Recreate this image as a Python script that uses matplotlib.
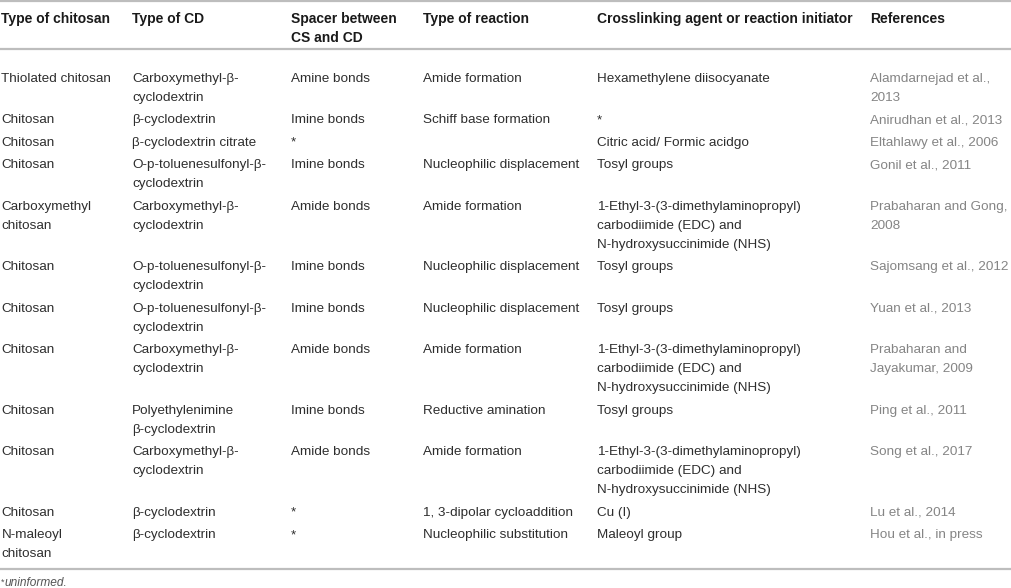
import matplotlib
matplotlib.use("Agg")
import matplotlib.pyplot as plt

headers = ["Type of chitosan", "Type of CD", "Spacer between\nCS and CD",
           "Type of reaction", "Crosslinking agent or reaction initiator", "References"]

chitosan_types = ["Thiolated chitosan", "Chitosan", "Chitosan", "Chitosan",
                  "Carboxymethyl\nchitosan", "Chitosan", "Chitosan", "Chitosan",
                  "Chitosan", "Chitosan", "Chitosan", "N-maleoyl\nchitosan"]
cd_types = ["Carboxymethyl-β-\ncyclodextrin", "β-cyclodextrin", "β-cyclodextrin citrate",
            "O-p-toluenesulfonyl-β-\ncyclodextrin", "Carboxymethyl-β-\ncyclodextrin",
            "O-p-toluenesulfonyl-β-\ncyclodextrin", "O-p-toluenesulfonyl-β-\ncyclodextrin",
            "Carboxymethyl-β-\ncyclodextrin", "Polyethylenimine\nβ-cyclodextrin",
            "Carboxymethyl-β-\ncyclodextrin", "β-cyclodextrin", "β-cyclodextrin"]
spacers = ["Amine bonds", "Imine bonds", "*", "Imine bonds", "Amide bonds", "Imine bonds",
           "Imine bonds", "Amide bonds", "Imine bonds", "Amide bonds", "*", "*"]
reactions = ["Amide formation", "Schiff base formation", "", "Nucleophilic displacement",
             "Amide formation", "Nucleophilic displacement", "Nucleophilic displacement",
             "Amide formation", "Reductive amination", "Amide formation",
             "1, 3-dipolar cycloaddition", "Nucleophilic substitution"]
EDC = "1-Ethyl-3-(3-dimethylaminopropyl)\ncarbodiimide (EDC) and\nN-hydroxysuccinimide (NHS)"
agents = ["Hexamethylene diisocyanate", "*", "Citric acid/ Formic acidgo", "Tosyl groups",
          EDC, "Tosyl groups", "Tosyl groups", EDC, "Tosyl groups", EDC, "Cu (I)",
          "Maleoyl group"]
references = ["Alamdarnejad et al.,\n2013", "Anirudhan et al., 2013", "Eltahlawy et al., 2006",
              "Gonil et al., 2011", "Prabaharan and Gong,\n2008", "Sajomsang et al., 2012",
              "Yuan et al., 2013", "Prabaharan and\nJayakumar, 2009", "Ping et al., 2011",
              "Song et al., 2017", "Lu et al., 2014", "Hou et al., in press"]
footnote = "uninformed."

W, H = 1012, 588
fig = plt.figure(figsize=(W / 100, H / 100), dpi=100)
ax = fig.add_axes([0, 0, 1, 1])
ax.set_xlim(0, W)
ax.set_ylim(H, 0)
ax.axis("off")

FONT = "Liberation Sans"
FS = 9.7
HFS = 10.0
col_x = [1.5, 132, 291, 423, 597, 870.5]
line_h = 19.0
row_gap = 22.5
body_color = "#2e2e2e"
ref_color = "#858585"
head_color = "#1a1a1a"
rule_color = "#bdbdbd"

# rules
for y in (1.0, 49.0, 568.5):
    ax.plot([0, W], [y, y], color=rule_color, lw=1.6, solid_capstyle="butt")

# header
for x, h in zip(col_x, headers):
    for k, line in enumerate(h.split("\n")):
        ax.text(x, 22.8 + k * line_h, line, fontsize=HFS, fontweight="bold",
                family=FONT, color=head_color, va="baseline", ha="left")

# body
columns = [chitosan_types, cd_types, spacers, reactions, agents, references]
y0 = 81.6
for i in range(len(chitosan_types)):
    nlines = 1
    for c, col in enumerate(columns):
        cell = col[i]
        lines = cell.split("\n")
        nlines = max(nlines, len(lines))
        color = ref_color if c == 5 else body_color
        for k, line in enumerate(lines):
            ax.text(col_x[c], y0 + k * line_h, line, fontsize=FS, family=FONT,
                    color=color, va="baseline", ha="left")
    y0 += (nlines - 1) * line_h + row_gap

# footnote
ax.text(1, 585, "*", fontsize=6.5, family=FONT, color="#555555", va="baseline", ha="left")
ax.text(5, 586.5, footnote, fontsize=8.6, family=FONT, style="italic",
        color="#555555", va="baseline", ha="left")

fig.savefig("out.png", dpi=100, facecolor="white")
